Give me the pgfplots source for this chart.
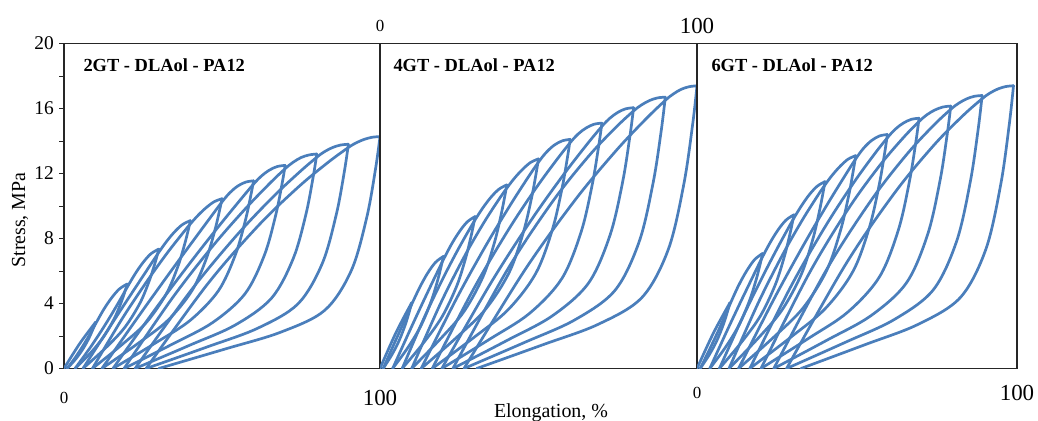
\documentclass[border=0pt]{standalone}
\usepackage{pgfplots}
\pgfplotsset{compat=1.18}
\usepackage{fontspec}
\setmainfont{Liberation Serif}
\definecolor{cblue}{RGB}{74,126,187}
\tikzset{ttl/.style={anchor=base west, font=\bfseries\fontsize{18.5}{18.5}\selectfont}}
\pgfplotsset{
  cyc/.style={cblue, line width=2.7bp, smooth, tension=0.55, line join=round, line cap=round},
  panel/.style={anchor=south west, scale only axis, height=325bp,
    xmin=0, xmax=100, ymin=0, ymax=20,
    axis line style={black!85, line width=1.2bp},
    x tick style={draw=none},
    /pgf/number format/assume math mode=true,
    xtick={0,100},
    xticklabels={{\fontsize{17}{17}\selectfont 0},{\fontsize{23}{23}\selectfont 100}},
    xticklabel style={anchor=center},
  },
}
\begin{document}
\begin{tikzpicture}
% ---------------- Panel 1 ----------------
\begin{axis}[panel, at={(64bp,52.5bp)}, width=316bp,
  ytick={0,4,...,20}, minor ytick={2,6,...,18}, ytick pos=left, tick align=outside,
  major tick length=5bp, minor tick length=5bp,
  y tick style={black!85, line width=0.9bp},
  yticklabel style={font=\fontsize{19.5}{19.5}\selectfont, anchor=east, inner sep=0pt, xshift=-5bp},
  xticklabel style={yshift=-24.5bp}]
\node[ttl, xshift=16bp, yshift=-28.2bp] at (rel axis cs:0,1) {2GT - DLAol - PA12};
\addplot[cyc] coordinates {(0,0) (5,1.54) (10,2.85)};
\addplot[cyc] coordinates {(10,2.85) (9.82,2.75) (9.46,2.57) (8.83,2.27) (7.75,1.81) (5.95,1.19) (3.7,0.58) (1,0)};
\addplot[cyc] coordinates {(1,0) (3.7,0.71) (5.95,1.38) (7.75,1.96) (9.1,2.43) (10,2.75) (12.5,3.61) (15,4.33) (17.5,4.89) (20,5.2)};
\addplot[cyc] coordinates {(20,5.2) (19.67,4.99) (19.01,4.58) (17.86,3.95) (15.88,3.06) (12.58,1.96) (8.45,0.97) (3.5,0)};
\addplot[cyc] coordinates {(3.5,0) (8.45,1.33) (12.58,2.55) (15.88,3.60) (18.35,4.43) (20,5.0) (22.5,5.82) (25,6.52) (27.5,7.06) (30,7.35)};
\addplot[cyc] coordinates {(30,7.35) (29.52,6.99) (28.56,6.33) (26.88,5.34) (24,4.01) (19.2,2.52) (13.2,1.27) (6,0)};
\addplot[cyc] coordinates {(6,0) (13.2,2.17) (19.2,3.97) (24,5.39) (27.6,6.45) (30,7.15) (32.5,7.83) (35,8.41) (37.5,8.86) (40,9.1)};
\addplot[cyc] coordinates {(40,9.1) (39.38,8.57) (38.14,7.62) (35.97,6.24) (32.25,4.55) (26.05,2.83) (18.3,1.46) (9,0)};
\addplot[cyc] coordinates {(9,0) (18.3,3.03) (26.05,5.31) (32.25,7.0) (36.9,8.16) (40,8.9) (42.5,9.44) (45,9.90) (47.5,10.26) (50,10.45)};
\addplot[cyc] coordinates {(50,10.45) (49.24,9.74) (47.72,8.49) (45.06,6.77) (40.5,4.79) (32.9,2.97) (23.4,1.54) (12,0)};
\addplot[cyc] coordinates {(12,0) (23.4,3.16) (32.9,5.74) (40.5,7.76) (46.2,9.26) (50,10.25) (52.5,10.82) (55,11.23) (57.5,11.47) (60,11.55)};
\addplot[cyc] coordinates {(60,11.55) (59.11,10.64) (57.33,9.06) (54.22,6.99) (48.88,4.79) (39.98,2.97) (28.85,1.56) (15.5,0)};
\addplot[cyc] coordinates {(15.5,0) (28.85,3.64) (39.98,6.52) (48.88,8.73) (55.55,10.32) (60,11.35) (62.5,11.85) (65,12.21) (67.5,12.43) (70,12.5)};
\addplot[cyc] coordinates {(70,12.5) (68.98,11.34) (66.94,9.39) (63.37,6.95) (57.25,4.59) (47.05,2.83) (34.3,1.5) (19,0)};
\addplot[cyc] coordinates {(19,0) (34.3,4.34) (47.05,7.53) (57.25,9.80) (64.9,11.35) (70,12.3) (72.5,12.69) (75,12.98) (77.5,13.14) (80,13.2)};
\addplot[cyc] coordinates {(80,13.2) (78.85,11.79) (76.55,9.48) (72.53,6.76) (65.63,4.32) (54.13,2.67) (39.75,1.43) (22.5,0)};
\addplot[cyc] coordinates {(22.5,0) (39.75,4.69) (54.13,8.08) (65.63,10.46) (74.25,12.04) (80,13.0) (82.5,13.35) (85,13.6) (87.5,13.75) (90,13.8)};
\addplot[cyc] coordinates {(90,13.8) (88.72,12.12) (86.16,9.47) (81.68,6.44) (74,3.97) (61.2,2.47) (45.2,1.32) (26,0)};
\addplot[cyc] coordinates {(26,0) (45.2,5.14) (61.2,8.73) (74,11.14) (83.6,12.69) (90,13.6) (92.5,13.89) (95,14.10) (97.5,14.23) (100,14.27)};
\addplot[cyc] coordinates {(100,14.27) (98.6,12.30) (95.8,9.29) (90.9,6.02) (82.5,3.58) (68.5,2.23) (51,1.20) (30,0)};
\end{axis}
% ---------------- Panel 2 ----------------
\begin{axis}[panel, at={(380bp,52.5bp)}, width=317bp,
  ytick=\empty, xticklabel pos=upper, xticklabel style={yshift=18bp}]
\node[ttl, xshift=10bp, yshift=-28.2bp] at (rel axis cs:0,1) {4GT - DLAol - PA12};
\addplot[cyc] coordinates {(0,0) (5,2.19) (10,4.05)};
\addplot[cyc] coordinates {(10,4.05) (9.82,3.91) (9.46,3.65) (8.83,3.22) (7.75,2.57) (5.95,1.68) (3.7,0.83) (1,0)};
\addplot[cyc] coordinates {(1,0) (3.7,1.19) (5.95,2.17) (7.75,2.96) (9.1,3.56) (10,3.95) (12.5,4.98) (15,5.86) (17.5,6.53) (20,6.9)};
\addplot[cyc] coordinates {(20,6.9) (19.68,6.62) (19.04,6.08) (17.92,5.24) (16,4.06) (12.8,2.59) (8.8,1.29) (4,0)};
\addplot[cyc] coordinates {(4,0) (8.8,2.08) (12.8,3.77) (16,5.09) (18.4,6.06) (20,6.7) (22.5,7.63) (25,8.41) (27.5,9.02) (30,9.35)};
\addplot[cyc] coordinates {(30,9.35) (29.54,8.89) (28.62,8.05) (27.01,6.79) (24.25,5.10) (19.65,3.21) (13.9,1.62) (7,0)};
\addplot[cyc] coordinates {(7,0) (13.9,3.11) (19.65,5.46) (24.25,7.19) (27.7,8.39) (30,9.15) (32.5,9.90) (35,10.54) (37.5,11.03) (40,11.3)};
\addplot[cyc] coordinates {(40,11.3) (39.4,10.64) (38.2,9.46) (36.1,7.75) (32.5,5.65) (26.5,3.51) (19,1.81) (10,0)};
\addplot[cyc] coordinates {(10,0) (19,3.96) (26.5,6.85) (32.5,8.89) (37,10.26) (40,11.1) (42.5,11.73) (45,12.26) (47.5,12.68) (50,12.9)};
\addplot[cyc] coordinates {(50,12.9) (49.26,12.02) (47.78,10.47) (45.19,8.36) (40.75,5.91) (33.35,3.66) (24.1,1.90) (13,0)};
\addplot[cyc] coordinates {(13,0) (24.1,4.29) (33.35,7.55) (40.75,9.95) (46.3,11.64) (50,12.7) (52.5,13.31) (55,13.75) (57.5,14.01) (60,14.1)};
\addplot[cyc] coordinates {(60,14.1) (59.13,12.99) (57.39,11.05) (54.35,8.53) (49.13,5.85) (40.43,3.62) (29.55,1.90) (16.5,0)};
\addplot[cyc] coordinates {(16.5,0) (29.55,4.90) (40.43,8.51) (49.13,11.08) (55.65,12.82) (60,13.9) (62.5,14.43) (65,14.8) (67.5,15.03) (70,15.1)};
\addplot[cyc] coordinates {(70,15.1) (68.99,13.70) (66.97,11.34) (63.44,8.40) (57.38,5.54) (47.28,3.41) (34.65,1.81) (19.5,0)};
\addplot[cyc] coordinates {(19.5,0) (34.65,5.16) (47.28,9.01) (57.38,11.79) (64.95,13.71) (70,14.9) (72.5,15.40) (75,15.76) (77.5,15.98) (80,16.05)};
\addplot[cyc] coordinates {(80,16.05) (78.86,14.33) (76.58,11.52) (72.59,8.22) (65.75,5.25) (54.35,3.24) (40.1,1.73) (23,0)};
\addplot[cyc] coordinates {(23,0) (40.1,6.05) (54.35,10.25) (65.75,13.05) (74.3,14.82) (80,15.85) (82.5,16.22) (85,16.49) (87.5,16.65) (90,16.7)};
\addplot[cyc] coordinates {(90,16.7) (88.73,14.66) (86.19,11.46) (81.75,7.80) (74.13,4.81) (61.43,2.99) (45.55,1.60) (26.5,0)};
\addplot[cyc] coordinates {(26.5,0) (45.55,6.02) (61.43,10.34) (74.13,13.33) (83.65,15.31) (90,16.5) (92.5,16.89) (95,17.18) (97.5,17.34) (100,17.4)};
\addplot[cyc] coordinates {(100,17.4) (98.61,15.0) (95.83,11.33) (90.97,7.34) (82.63,4.37) (68.73,2.71) (51.35,1.46) (30.5,0)};
\end{axis}
% ---------------- Panel 3 ----------------
\begin{axis}[panel, at={(697bp,52.5bp)}, width=320bp,
  ytick=\empty, xticklabel style={yshift=-24.5bp}]
\node[ttl, xshift=11bp, yshift=-28.2bp] at (rel axis cs:0,1) {6GT - DLAol - PA12};
\addplot[cyc] coordinates {(0,0) (5.15,2.19) (10.3,4.05)};
\addplot[cyc] coordinates {(10.3,4.05) (10.11,3.91) (9.74,3.65) (9.09,3.22) (7.98,2.57) (6.12,1.68) (3.79,0.83) (1,0)};
\addplot[cyc] coordinates {(1,0) (3.79,1.12) (6.12,2.09) (7.98,2.90) (9.37,3.53) (10.3,3.95) (12.85,5.05) (15.4,5.97) (17.95,6.69) (20.5,7.08)};
\addplot[cyc] coordinates {(20.5,7.08) (20.17,6.79) (19.51,6.24) (18.36,5.38) (16.38,4.16) (13.08,2.66) (8.95,1.32) (4,0)};
\addplot[cyc] coordinates {(4,0) (8.95,2.14) (13.08,3.87) (16.38,5.22) (18.85,6.22) (20.5,6.88) (22.95,7.78) (25.4,8.55) (27.85,9.14) (30.3,9.46)};
\addplot[cyc] coordinates {(30.3,9.46) (29.83,9.0) (28.9,8.15) (27.27,6.87) (24.48,5.16) (19.82,3.24) (13.99,1.64) (7,0)};
\addplot[cyc] coordinates {(7,0) (13.99,3.03) (19.82,5.39) (24.48,7.17) (27.97,8.44) (30.3,9.26) (32.73,10.04) (35.15,10.71) (37.58,11.22) (40,11.5)};
\addplot[cyc] coordinates {(40,11.5) (39.4,10.83) (38.2,9.63) (36.1,7.89) (32.5,5.75) (26.5,3.58) (19,1.84) (10,0)};
\addplot[cyc] coordinates {(10,0) (19,3.98) (26.5,6.91) (32.5,9.0) (37,10.42) (40,11.3) (42.4,11.93) (44.8,12.46) (47.2,12.88) (49.6,13.1)};
\addplot[cyc] coordinates {(49.6,13.1) (48.87,12.21) (47.4,10.64) (44.84,8.49) (40.45,6.0) (33.13,3.72) (23.98,1.93) (13,0)};
\addplot[cyc] coordinates {(13,0) (23.98,4.25) (33.13,7.54) (40.45,10.01) (45.94,11.77) (49.6,12.9) (52.08,13.56) (54.55,14.03) (57.03,14.31) (59.5,14.4)};
\addplot[cyc] coordinates {(59.5,14.4) (58.64,13.26) (56.92,11.29) (53.91,8.71) (48.75,5.98) (40.15,3.70) (29.4,1.94) (16.5,0)};
\addplot[cyc] coordinates {(16.5,0) (29.4,5.07) (40.15,8.76) (48.75,11.37) (55.2,13.13) (59.5,14.2) (61.98,14.73) (64.45,15.1) (66.93,15.33) (69.4,15.4)};
\addplot[cyc] coordinates {(69.4,15.4) (68.41,13.97) (66.44,11.57) (62.98,8.56) (57.05,5.65) (47.17,3.48) (34.82,1.85) (20,0)};
\addplot[cyc] coordinates {(20,0) (34.82,5.77) (47.17,9.79) (57.05,12.48) (64.46,14.2) (69.4,15.2) (71.88,15.62) (74.35,15.91) (76.83,16.09) (79.3,16.15)};
\addplot[cyc] coordinates {(79.3,16.15) (78.19,14.42) (75.98,11.60) (72.11,8.27) (65.48,5.28) (54.42,3.26) (40.59,1.74) (24,0)};
\addplot[cyc] coordinates {(24,0) (40.59,6.12) (54.42,10.35) (65.48,13.16) (73.77,14.93) (79.3,15.95) (81.75,16.32) (84.2,16.59) (86.65,16.75) (89.1,16.8)};
\addplot[cyc] coordinates {(89.1,16.8) (87.88,14.75) (85.43,11.52) (81.16,7.85) (73.83,4.84) (61.61,3.01) (46.33,1.61) (28,0)};
\addplot[cyc] coordinates {(28,0) (46.33,6.37) (61.61,10.77) (73.83,13.70) (82.99,15.54) (89.1,16.6) (91.55,16.95) (94,17.2) (96.45,17.35) (98.9,17.4)};
\addplot[cyc] coordinates {(98.9,17.4) (97.57,15.0) (94.92,11.33) (90.27,7.34) (82.3,4.37) (69.02,2.71) (52.42,1.46) (32.5,0)};
\end{axis}
\node[rotate=90, font=\fontsize{20}{20}\selectfont] at (20bp,201bp) {Stress, MPa};
\node[anchor=base, font=\fontsize{20}{20}\selectfont] at (551bp,3.5bp) {Elongation, \%};
\pgfresetboundingbox
\path[use as bounding box] (0,0) rectangle (1038bp,421bp);
\end{tikzpicture}
\end{document}
